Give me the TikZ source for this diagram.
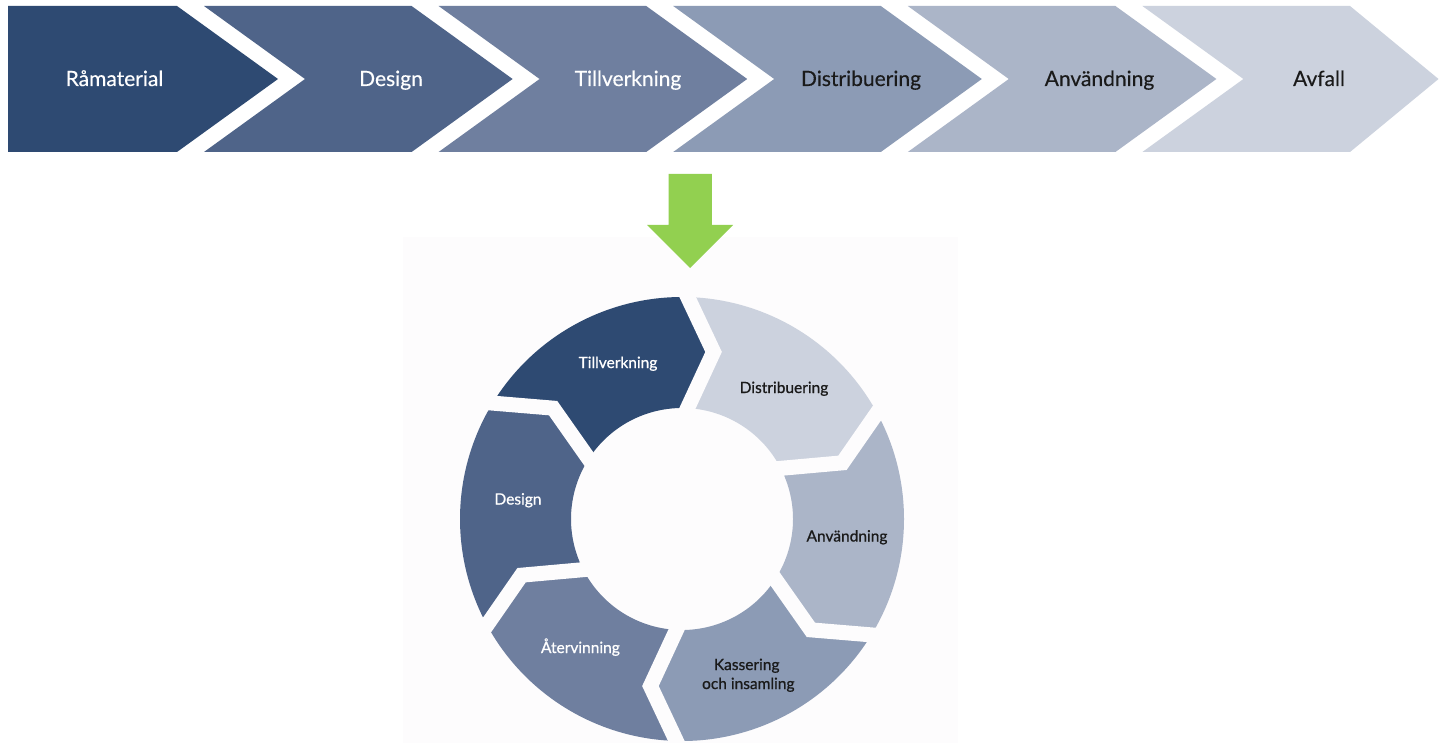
\documentclass[tikz,border=0pt]{standalone}
\usepackage{fontspec}
\setmainfont{Lato}
\usetikzlibrary{calc}
\definecolor{cA}{HTML}{2E4A72}
\definecolor{cB}{HTML}{4F6489}
\definecolor{cC}{HTML}{6F7F9F}
\definecolor{cD}{HTML}{8C9BB5}
\definecolor{cE}{HTML}{ABB5C8}
\definecolor{cF}{HTML}{CCD2DE}
\definecolor{arrowgreen}{HTML}{92D050}
\definecolor{panelbg}{HTML}{FDFCFD}
\definecolor{darktext}{HTML}{1A1A1A}
\begin{document}
\begin{tikzpicture}[x=1pt,y=-1pt,
  toplabel/.style={font=\fontsize{21}{25}\selectfont\addfontfeatures{FakeBold=0.3}, anchor=base, inner sep=0pt},
  ringlabel/.style={font=\fontsize{15.5}{18}\selectfont\addfontfeatures{FakeBold=0.8}, anchor=base, inner sep=0pt},
  gapline/.style={draw=panelbg, line width=15pt, line join=miter, line cap=butt}]
\useasboundingbox (0,0) rectangle (1439,743);
\fill[white] (0,0) rectangle (1439,743);
\fill[panelbg] (403,237) rectangle (958,743);

% top chevrons
\fill[cA] (8,6) -- (177,6) -- (278,79) -- (177,152) -- (8,152) -- cycle;
\fill[cB] (204,6) -- (411.6,6) -- (512.6,79) -- (411.6,152) -- (204,152) -- (305,79) -- cycle;
\fill[cC] (438.6,6) -- (646.2,6) -- (747.2,79) -- (646.2,152) -- (438.6,152) -- (539.6,79) -- cycle;
\fill[cD] (673.2,6) -- (880.8,6) -- (981.8,79) -- (880.8,152) -- (673.2,152) -- (774.2,79) -- cycle;
\fill[cE] (907.8,6) -- (1115.4,6) -- (1216.4,79) -- (1115.4,152) -- (907.8,152) -- (1008.8,79) -- cycle;
\fill[cF] (1142.4,6) -- (1350,6) -- (1438.5,79) -- (1350,152) -- (1142.4,152) -- (1243.4,79) -- cycle;

\node[toplabel, text=white] (t1) at (114.5,86) {Råmaterial};
\node[toplabel, text=white] (t2) at (391,86) {Design};
\node[toplabel, text=white] (t3) at (628,86) {Tillverkning};
\node[toplabel, text=darktext] (t4) at (861,86) {Distribuering};
\node[toplabel, text=darktext] (t5) at (1099.5,86) {Användning};
\node[toplabel, text=darktext] (t6) at (1319,86) {Avfall};

% green arrow
\fill[arrowgreen] (668.6,174) -- (711.8,174) -- (711.8,225) -- (733.2,225) -- (690,268) -- (647.1,225) -- (668.6,225) -- cycle;

% ring
\begin{scope}[shift={(682,519)}, yscale=-1]
  \def\R{222}\def\r{111}\def\m{170}\def\d{10.7}
  \fill[cA] (150:\R) arc[start angle=150, end angle=90, radius=\R] -- (90-\d:\m) -- (90:\r) arc[start angle=90, end angle=150, radius=\r] -- (150-\d:\m) -- cycle;
  \fill[cF] (90:\R) arc[start angle=90, end angle=30, radius=\R] -- (30-\d:\m) -- (30:\r) arc[start angle=30, end angle=90, radius=\r] -- (90-\d:\m) -- cycle;
  \fill[cE] (30:\R) arc[start angle=30, end angle=-30, radius=\R] -- (-30-\d:\m) -- (-30:\r) arc[start angle=-30, end angle=30, radius=\r] -- (30-\d:\m) -- cycle;
  \fill[cD] (-30:\R) arc[start angle=-30, end angle=-90, radius=\R] -- (-90-\d:\m) -- (-90:\r) arc[start angle=-90, end angle=-30, radius=\r] -- (-30-\d:\m) -- cycle;
  \fill[cC] (-90:\R) arc[start angle=-90, end angle=-150, radius=\R] -- (-150-\d:\m) -- (-150:\r) arc[start angle=-150, end angle=-90, radius=\r] -- (-90-\d:\m) -- cycle;
  \fill[cB] (-150:\R) arc[start angle=-150, end angle=-210, radius=\R] -- (-210-\d:\m) -- (-210:\r) arc[start angle=-210, end angle=-150, radius=\r] -- (-150-\d:\m) -- cycle;
  \foreach \b in {150,90,30,-30,-90,-150}{
    \draw[gapline] (\b:\R+12) -- (\b-\d:\m) -- (\b:\r-12);
  }
\end{scope}

\node[ringlabel, text=white] (r1) at (618,368) {Tillverkning};
\node[ringlabel, text=darktext] (r2) at (784,393) {Distribuering};
\node[ringlabel, text=darktext] (r3) at (847,541.5) {Användning};
\node[ringlabel, text=darktext] (r4a) at (746.7,670) {Kassering};
\node[ringlabel, text=darktext] (r4b) at (748.3,689) {och insamling};
\node[ringlabel, text=white] (r5) at (580.4,653) {Återvinning};
\node[ringlabel, text=white] (r6) at (518,504.5) {Design};
\end{tikzpicture}
\end{document}
